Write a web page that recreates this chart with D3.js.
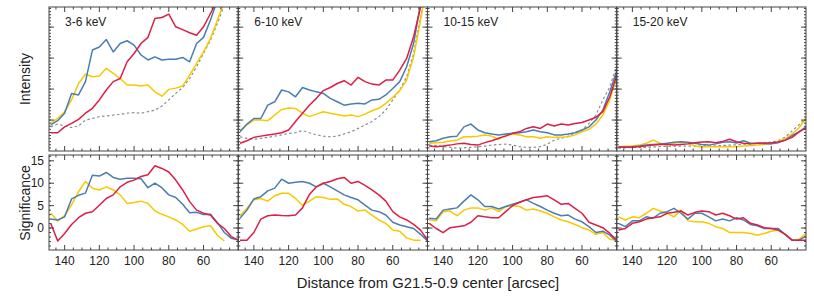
<!DOCTYPE html>
<html><head><meta charset="utf-8">
<script src="https://cdn.jsdelivr.net/npm/d3@7"></script>
<style>body{margin:0;background:#fff}svg{display:block}</style>
</head><body><svg id="c" width="814" height="297"></svg>
<script>
const distances = [148,144,140,136,132,128,124,120,116,112,108,104,100,96,92,88,84,80,76,72,68,64,60,56,52,48,44,40];
const panelTitles = ["3-6 keV","6-10 keV","10-15 keV","15-20 keV"];
const xTicks = [140,120,100,80,60];
const sigTicks = [0,5,10,15];

// Intensity (arbitrary linear units)
const int36Red    = [0.59,0.59,0.78,0.89,1.02,1.22,1.38,1.65,1.97,2.24,2.34,2.88,3.15,3.47,3.67,4.28,4.31,4.42,4.01,3.92,3.82,3.74,4.01,4.44,4.87,5.5,6.5,7.5];
const int36Blue   = [0.84,0.98,1.22,1.86,1.81,2.24,3.26,3.36,3.60,3.20,3.47,3.56,3.42,3.10,2.94,3.04,2.94,2.96,2.96,3.02,2.88,3.47,3.67,4.23,4.87,5.5,6.5,7.5];
const int36Yellow = [0.91,1.05,1.27,1.65,2.18,2.48,2.40,2.42,2.67,2.51,2.34,2.13,2.13,2.10,2.13,1.91,1.77,1.99,2.03,2.10,2.45,2.83,3.20,3.63,4.23,4.82,5.6,6.5];
const int36Grey   = [0.78,0.87,0.81,0.76,0.81,1.0,1.05,1.11,1.13,1.16,1.18,1.22,1.24,1.22,1.27,1.32,1.45,1.65,1.86,2.05,2.34,2.72,3.15,3.58,4.12,4.71,5.5,6.5];

const int610Red    = [0.25,0.33,0.44,0.48,0.52,0.55,0.59,0.68,0.95,1.22,1.48,1.70,1.95,2.05,2.18,2.27,2.13,2.38,2.24,2.16,2.13,2.29,2.29,2.61,2.99,3.69,4.65,6];
const int610Blue   = [0.62,0.87,1.05,1.05,1.48,1.59,1.97,1.91,1.75,2.05,1.97,1.91,1.86,1.70,1.59,1.48,1.52,1.54,1.52,1.65,1.67,1.81,2.02,2.24,2.72,3.47,4.76,6];
const int610Yellow = [0.66,0.84,1.0,1.0,0.98,1.16,1.34,1.39,1.37,1.22,1.11,1.19,1.27,1.22,1.18,1.13,1.16,1.11,1.19,1.30,1.38,1.54,1.73,1.95,2.29,3.04,4.23,5.5];
const int610Grey   = [0.46,0.41,0.38,0.41,0.44,0.48,0.52,0.57,0.59,0.66,0.59,0.52,0.48,0.46,0.48,0.55,0.62,0.73,0.84,0.95,1.11,1.32,1.65,1.97,2.40,3.15,4.33,5.5];

const int1015Red    = [0.16,0.14,0.16,0.19,0.23,0.25,0.21,0.19,0.27,0.33,0.41,0.48,0.57,0.62,0.73,0.78,0.73,0.87,0.81,0.87,0.84,0.89,0.92,1.0,1.09,1.27,1.75,2.45];
const int1015Blue   = [0.30,0.33,0.41,0.46,0.48,0.78,0.87,0.68,0.59,0.55,0.52,0.55,0.57,0.59,0.62,0.68,0.62,0.59,0.52,0.52,0.55,0.59,0.68,0.78,1.0,1.32,1.91,2.59];
const int1015Yellow = [0.25,0.27,0.28,0.32,0.35,0.46,0.46,0.48,0.52,0.48,0.38,0.52,0.55,0.52,0.46,0.46,0.41,0.46,0.44,0.44,0.46,0.52,0.62,0.70,0.87,1.16,1.65,2.40];
const int1015Grey   = [0.19,0.18,0.14,0.12,0.09,0.10,0.12,0.14,0.16,0.19,0.21,0.22,0.19,0.14,0.12,0.12,0.14,0.22,0.35,0.41,0.48,0.59,0.68,0.89,1.16,1.65,2.07,2.77];

const int1520Red    = [0.14,0.12,0.13,0.14,0.17,0.19,0.21,0.22,0.19,0.21,0.23,0.27,0.29,0.30,0.27,0.31,0.38,0.30,0.25,0.23,0.25,0.26,0.27,0.29,0.35,0.44,0.62,0.75];
const int1520Blue   = [0.12,0.13,0.14,0.16,0.19,0.21,0.23,0.25,0.28,0.30,0.28,0.25,0.21,0.19,0.23,0.28,0.30,0.26,0.33,0.25,0.25,0.24,0.23,0.27,0.35,0.50,0.62,0.78];
const int1520Yellow = [0.14,0.15,0.16,0.19,0.25,0.35,0.25,0.19,0.25,0.28,0.25,0.16,0.13,0.14,0.14,0.14,0.14,0.14,0.16,0.18,0.19,0.21,0.25,0.30,0.40,0.55,0.75,1.05];
const int1520Grey   = [0.09,0.10,0.11,0.12,0.12,0.13,0.14,0.15,0.16,0.16,0.16,0.16,0.16,0.17,0.17,0.18,0.19,0.20,0.22,0.23,0.25,0.26,0.29,0.33,0.45,0.65,0.85,1.08];

// Significance
const sig36Red    = [1.05,-2.9,-1.2,0.8,2.3,3.3,3.65,5.1,6.6,7.4,9.2,10.2,10.7,11.5,11.9,13.9,13.3,12.5,10.7,8.5,5.9,4.0,3.3,2.9,1.05,-0.1,-1.9,-2.7];
const sig36Blue   = [2.0,1.8,2.5,6.5,7.3,7.8,11.8,11.6,12.4,11.3,10.9,11.1,11.1,11.0,9.0,10.0,9.0,7.4,6.8,5.3,3.4,3.5,3.0,3.1,1.2,-1.0,-2.3,-2.7];
const sig36Yellow = [3.3,1.6,2.75,5.15,8.1,10.4,8.9,8.5,9.2,8.5,7.4,5.5,5.7,6.0,5.5,3.8,3.06,2.5,1.8,0.8,-0.7,-0.2,0.3,0.5,-1.6,-2.9,null,null];

const sig610Red    = [-2.7,-2.7,-1.0,2.0,2.75,2.9,2.8,2.75,2.9,4.5,7.5,9.2,10.0,10.4,11.0,11.3,10.0,10.4,9.5,8.5,7.4,6.0,3.65,2.5,1.8,0.8,-0.45,-2.7];
const sig610Blue   = [2.2,4.0,6.5,7.0,8.3,8.9,10.9,10.0,10.2,10.4,10.0,9.2,10.0,9.2,8.3,7.4,6.8,6.3,5.1,4.0,3.65,2.9,1.3,0.67,0.3,-0.1,-1.4,-2.9];
const sig610Yellow = [2.75,4.4,6.3,6.6,6.0,7.2,7.75,7.75,6.6,5.1,6.0,7.0,6.8,6.4,6.5,5.3,4.8,3.8,4.0,2.9,1.8,1.05,-0.45,-0.7,-2.2,-2.7,-2.7,null];

const sig1015Red    = [1.05,-0.1,-1.0,0.08,0.3,0.5,1.3,2.75,2.5,2.3,2.3,3.65,5.0,5.75,6.3,6.8,7.0,7.2,6.3,5.3,5.5,4.4,3.3,1.3,0.67,0.08,-1.2,-2.7];
const sig1015Blue   = [2.2,2.0,4.0,4.25,4.5,6.0,7.4,6.3,4.8,4.8,4.25,4.8,5.3,5.75,6.3,5.5,4.8,4.0,3.3,2.75,2.9,2.0,1.4,0.3,-1.0,-0.7,-1.6,-3.0];
const sig1015Yellow = [1.8,1.6,3.65,3.8,2.75,4.0,4.5,4.5,4.0,4.5,3.65,4.8,5.0,4.8,4.0,4.25,3.8,3.3,2.5,1.8,1.4,0.8,0.08,-0.45,-1.4,-1.0,-2.5,-2.7];

const sig1520Red    = [-0.45,-0.1,1.05,1.4,2.0,2.3,2.5,3.3,3.5,3.8,2.9,3.5,3.8,3.65,2.9,3.3,2.75,2.0,2.3,1.05,0.67,0.08,-0.1,-0.45,-1.4,-2.7,-2.7,-2.7];
const sig1520Blue   = [1.05,0.3,1.6,1.6,2.5,2.2,3.3,3.65,4.4,3.3,2.0,3.3,3.3,2.5,1.6,2.0,1.6,2.3,1.8,0.8,0.5,-0.1,-0.1,-0.1,-1.4,-2.7,-2.7,-1.8];
const sig1520Yellow = [2.5,1.8,2.5,2.3,3.3,4.4,3.8,3.3,2.5,4.0,1.6,1.4,1.4,1.05,0.3,-0.1,-1.0,-1.0,-1.0,-1.2,-1.6,-1.2,-0.7,-0.45,-1.4,-2.7,-2.5,-1.2];

const intensityPanels = [
  {grey:int36Grey, yellow:int36Yellow, blue:int36Blue, red:int36Red},
  {grey:int610Grey, yellow:int610Yellow, blue:int610Blue, red:int610Red},
  {grey:int1015Grey, yellow:int1015Yellow, blue:int1015Blue, red:int1015Red},
  {grey:int1520Grey, yellow:int1520Yellow, blue:int1520Blue, red:int1520Red}
];
const sigPanels = [
  {yellow:sig36Yellow, blue:sig36Blue, red:sig36Red},
  {yellow:sig610Yellow, blue:sig610Blue, red:sig610Red},
  {yellow:sig1015Yellow, blue:sig1015Blue, red:sig1015Red},
  {yellow:sig1520Yellow, blue:sig1520Blue, red:sig1520Red}
];

const colors = {grey:"#8c8c8c", yellow:"#f7c900", blue:"#4a7db3", red:"#dc1f45"};
const order = ["grey","yellow","blue","red"];

const svg = d3.select("#c");
const FONT = "'Liberation Sans', Arial, sans-serif";
const L = 49, R = 806, W = (R - L) / 4;
const topY0 = 7, topY1 = 151, botY0 = 155, botY1 = 250;
const axisCol = "#444";

const yInt = d3.scaleLinear().domain([0, 4.65]).range([topY1, topY0]);
const ySig = d3.scaleLinear().domain([-4.9, 16.3]).range([botY1, botY0]);

const defs = svg.append("defs");

function ticksY(g, scale, x0, x1, major, minor) {
  minor.forEach(v => {
    const y = scale(v);
    g.append("line").attr("x1", x0).attr("x2", x0 + 2).attr("y1", y).attr("y2", y);
    g.append("line").attr("x1", x1).attr("x2", x1 - 2).attr("y1", y).attr("y2", y);
  });
  major.forEach(v => {
    const y = scale(v);
    g.append("line").attr("x1", x0).attr("x2", x0 + 5).attr("y1", y).attr("y2", y);
    g.append("line").attr("x1", x1).attr("x2", x1 - 5).attr("y1", y).attr("y2", y);
  });
}
function ticksX(g, scale, y0, y1) {
  for (let v = 145; v >= 40; v -= 5) {
    const x = scale(v);
    if (x <= scale.range()[0] + 0.5 || x >= scale.range()[1] - 0.5) continue;
    const len = (v % 20 === 0) ? 5 : 2.5;
    g.append("line").attr("x1", x).attr("x2", x).attr("y1", y0).attr("y2", y0 + len);
    g.append("line").attr("x1", x).attr("x2", x).attr("y1", y1).attr("y2", y1 - len);
  }
}

const intMinor = d3.range(0.1, 4.65, 0.1).map(v => +v.toFixed(2));
const intMajor = [1,2,3,4];
const sigMinor = d3.range(-4, 16.3, 1);

for (let p = 0; p < 4; p++) {
  const x0 = L + p * W, x1 = x0 + W;
  const x = d3.scaleLinear().domain([149, 40]).range([x0, x1]);

  defs.append("clipPath").attr("id", "ct" + p).append("rect")
    .attr("x", x0).attr("y", topY0).attr("width", W).attr("height", topY1 - topY0);
  defs.append("clipPath").attr("id", "cb" + p).append("rect")
    .attr("x", x0).attr("y", botY0).attr("width", W).attr("height", botY1 - botY0);

  const gt = svg.append("g").attr("clip-path", `url(#ct${p})`);
  order.forEach(k => {
    const vals = intensityPanels[p][k];
    const line = d3.line().defined(d => d[1] != null)
      .x(d => x(d[0])).y(d => yInt(d[1]));
    gt.append("path").datum(distances.map((d, i) => [d, vals[i]]))
      .attr("d", line).attr("fill", "none").attr("stroke", colors[k])
      .attr("stroke-width", k === "grey" ? 1.2 : 1.5)
      .attr("stroke-dasharray", k === "grey" ? "2.5,2.5" : null)
      .attr("stroke-linejoin", "round");
  });

  const gb = svg.append("g").attr("clip-path", `url(#cb${p})`);
  ["yellow","blue","red"].forEach(k => {
    const vals = sigPanels[p][k];
    const line = d3.line().defined(d => d[1] != null)
      .x(d => x(d[0])).y(d => ySig(d[1]));
    gb.append("path").datum(distances.map((d, i) => [d, vals[i]]))
      .attr("d", line).attr("fill", "none").attr("stroke", colors[k])
      .attr("stroke-width", 1.5).attr("stroke-linejoin", "round");
  });

  const ga = svg.append("g").attr("stroke", axisCol).attr("stroke-width", 1);
  ga.append("rect").attr("x", x0).attr("y", topY0).attr("width", W).attr("height", topY1 - topY0).attr("fill", "none");
  ga.append("rect").attr("x", x0).attr("y", botY0).attr("width", W).attr("height", botY1 - botY0).attr("fill", "none");
  ticksY(ga, yInt, x0, x1, intMajor, intMinor);
  ticksY(ga, ySig, x0, x1, sigTicks, sigMinor);
  ticksX(ga, x, topY0, topY1);
  ticksX(ga, x, botY0, botY1);

  xTicks.forEach(v => {
    svg.append("text").attr("x", x(v)).attr("y", 265).attr("text-anchor", "middle")
      .attr("font-family", FONT).attr("font-size", 12).attr("fill", "#222").text(v);
  });

  svg.append("text").attr("x", x0 + 16).attr("y", 26)
    .attr("font-family", FONT).attr("font-size", 12).attr("fill", "#222").text(panelTitles[p]);
}

sigTicks.forEach(v => {
  svg.append("text").attr("x", 44).attr("y", ySig(v) + 4).attr("text-anchor", "end")
    .attr("font-family", FONT).attr("font-size", 12).attr("fill", "#222").text(v);
});

svg.append("text").attr("transform", "translate(30,79) rotate(-90)").attr("text-anchor", "middle")
  .attr("font-family", FONT).attr("font-size", 14).attr("fill", "#222").text("Intensity");
svg.append("text").attr("transform", "translate(30,203) rotate(-90)").attr("text-anchor", "middle")
  .attr("font-family", FONT).attr("font-size", 14).attr("fill", "#222").text("Significance");
svg.append("text").attr("x", 428).attr("y", 288).attr("text-anchor", "middle")
  .attr("font-family", FONT).attr("font-size", 14.8).attr("fill", "#222").text("Distance from G21.5-0.9 center [arcsec]");
</script></body></html>
